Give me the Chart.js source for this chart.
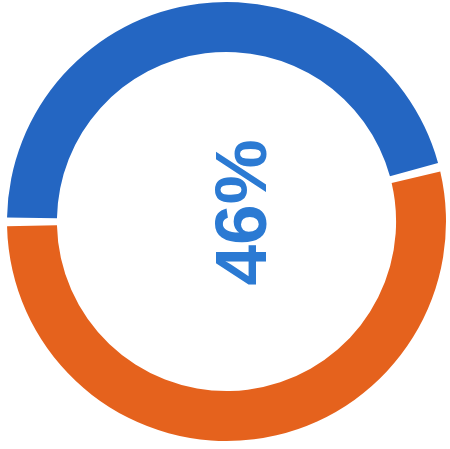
<!DOCTYPE html>
<html>
<head>
<meta charset="utf-8">
<script src="https://cdn.jsdelivr.net/npm/chart.js@4"></script>
<style>
  html, body { margin: 0; padding: 0; background: #fff; }
  #wrap { width: 450px; height: 449px; }
</style>
</head>
<body>
<div id="wrap"><canvas id="grafico"></canvas></div>
<script>
// Datos del anillo
const etiquetas = ["Sí", "No"];
const valores = [46, 54];
const colores = ["#2466c2", "#e5621d"];

// Texto central girado con el porcentaje del primer tramo
const textoCentro = {
    id: "textoCentro",
    afterDraw(chart) {
        const ctx = chart.ctx;
        const area = chart.chartArea;
        const cx = (area.left + area.right) / 2;
        const cy = (area.top + area.bottom) / 2;
        const total = valores.reduce((a, b) => a + b, 0);
        const pct = Math.round(valores[0] / total * 100) + "%";
        ctx.save();
        ctx.translate(cx + 39, cy - 9);
        ctx.rotate(-Math.PI / 2);
        ctx.font = "bold 73px 'Liberation Sans', Arial, sans-serif";
        ctx.fillStyle = "#2b7ad3";
        ctx.textAlign = "center";
        ctx.textBaseline = "alphabetic";
        ctx.fillText(pct, 0, 0);
        ctx.restore();
    }
};

new Chart(document.getElementById("grafico"), {
    type: "doughnut",
    data: {
        labels: etiquetas,
        datasets: [{
            data: valores,
            backgroundColor: colores,
            borderWidth: 0,
            spacing: 5
        }]
    },
    options: {
        responsive: true,
        maintainAspectRatio: false,
        animation: false,
        rotation: -90,
        cutout: "77%",
        layout: { padding: { left: 7, right: 4, top: 2, bottom: 8 } },
        plugins: {
            legend: { display: false },
            tooltip: { enabled: false }
        }
    },
    plugins: [textoCentro]
});
</script>
</body>
</html>
